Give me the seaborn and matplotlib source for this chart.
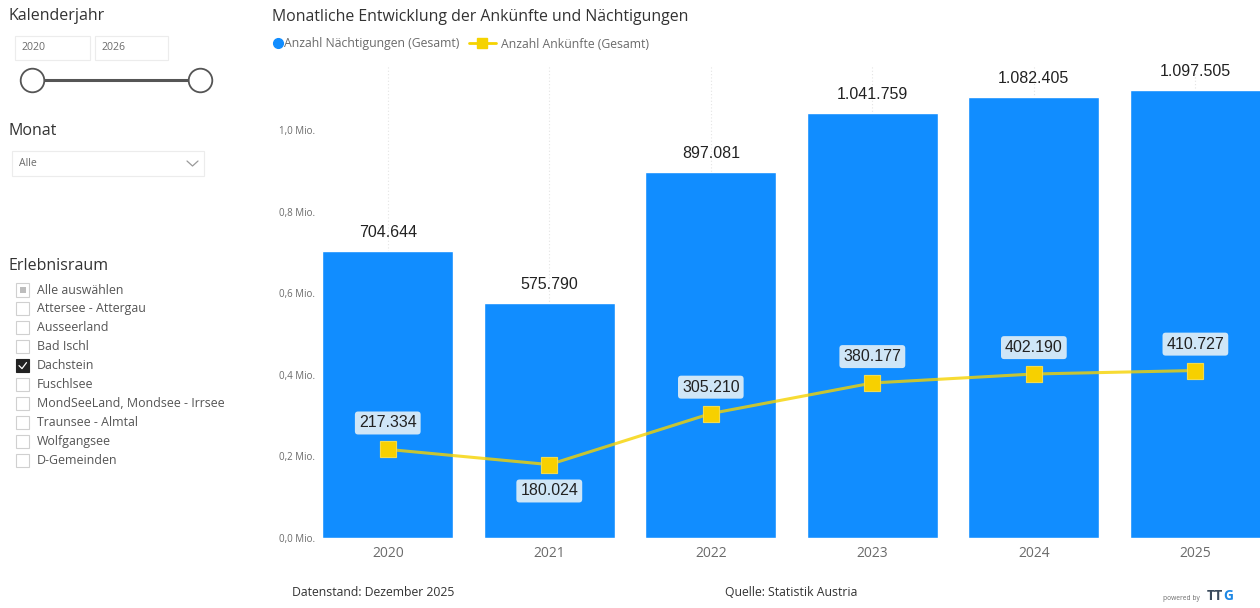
import matplotlib
matplotlib.use("Agg")
import matplotlib.pyplot as plt
import numpy as np
import pandas as pd
import seaborn as sns
from matplotlib.lines import Line2D
from matplotlib.patches import Rectangle

# ---------------------------------------------------------------------------
# Data
# ---------------------------------------------------------------------------
years = ["2020", "2021", "2022", "2023", "2024", "2025"]
naechtigungen = [704644, 575790, 897081, 1041759, 1082405, 1097505]
ankuenfte = [217334, 180024, 305210, 380177, 402190, 410727]
label_below = [False, True, False, False, False, False]

y_ticks = [0, 200000, 400000, 600000, 800000, 1000000]
y_tick_labels = ["0,0 Mio.", "0,2 Mio.", "0,4 Mio.", "0,6 Mio.", "0,8 Mio.", "1,0 Mio."]

regions = ["Alle auswählen", "Attersee - Attergau", "Ausseerland", "Bad Ischl",
           "Dachstein", "Fuschlsee", "MondSeeLand, Mondsee - Irrsee",
           "Traunsee - Almtal", "Wolfgangsee", "D-Gemeinden"]
selected_region = "Dachstein"

BLUE = "#118DFF"
YELLOW = "#F5D300"
GREY = "#6B6B6B"
DARK = "#333333"


def fmt(v):
    return f"{v:,}".replace(",", ".")


df = pd.DataFrame({"Jahr": years, "Naechtigungen": naechtigungen, "Ankuenfte": ankuenfte})

sns.set_theme(style="white")
plt.rcParams["font.family"] = ["Open Sans", "DejaVu Sans"]

W, H = 1260, 608
fig = plt.figure(figsize=(W / 100, H / 100), dpi=100)
fig.patch.set_facecolor("white")


def fx(px):
    return px / W


def fy(py):
    return 1 - py / H


ax = fig.add_axes([fx(307), fy(538), fx(953), (538 - 65) / H])

sns.barplot(data=df, x="Jahr", y="Naechtigungen", color=BLUE, saturation=1,
            width=0.81, ax=ax, zorder=2)
sns.pointplot(data=df, x="Jahr", y="Ankuenfte", color=YELLOW, markers="s",
              markersize=11, linewidth=2.2, ax=ax, zorder=4,
              markeredgecolor="#F0DA50", markeredgewidth=0.8)
# line slightly translucent (greenish over the blue bars), markers solid
for ln in ax.lines:
    ln.set_alpha(0.8)
ax.plot(range(len(years)), ankuenfte, ls="none", marker="s", markersize=11,
        color="#F7D000", mec="#F0DA50", mew=0.8, zorder=5)

ax.set_xlim(-0.5, 5.4)
ax.set_ylim(0, 1.16e6)
ax.set_yticks(y_ticks)
ax.set_yticklabels(y_tick_labels)
ax.set_xlabel("")
ax.set_ylabel("")
ax.tick_params(axis="y", labelsize=7, colors=GREY, length=0, pad=-6)
ax.tick_params(axis="x", labelsize=10, colors=GREY, length=0, pad=6)
for lab in ax.get_yticklabels():
    lab.set_horizontalalignment("right")
for s in ax.spines.values():
    s.set_visible(False)

# faint dotted vertical grid
for i in range(len(years)):
    ax.axvline(i, color="#E4E4E4", lw=0.8, ls=(0, (1, 2)), zorder=0)

# bar labels
for i, v in enumerate(naechtigungen):
    ax.annotate(fmt(v), (i, v), xytext=(0, 8), textcoords="offset points",
                ha="center", va="bottom", fontsize=11.5, color="#222222",
                family=["Liberation Sans", "DejaVu Sans"])

# line labels
for i, (v, below) in enumerate(zip(ankuenfte, label_below)):
    off = -19 if below else 19
    ax.annotate(fmt(v), (i, v), xytext=(0, off), textcoords="offset points",
                ha="center", va="center", fontsize=11.5, color="#222222",
                family=["Liberation Sans", "DejaVu Sans"], zorder=6,
                bbox=dict(boxstyle="round,pad=0.25,rounding_size=0.2",
                          fc="#CFE6F7", ec="none"))

# title and legend (two figure legends, they both stay on the figure)
fig.text(fx(272), fy(17), "Monatliche Entwicklung der Ankünfte und Nächtigungen",
         fontsize=11.4, color=DARK, va="center", ha="left")
fig.legend([Line2D([], [], marker="o", ls="none", color=BLUE, markersize=7)],
           ["Anzahl Nächtigungen (Gesamt)"],
           loc="center left", bbox_to_anchor=(fx(274), fy(44)),
           frameon=False, fontsize=8.8, labelcolor=GREY, handlelength=0.6,
           handletextpad=0.25, borderaxespad=0, borderpad=0)
fig.legend([Line2D([], [], marker="s", color=YELLOW, lw=2, markersize=7)],
           ["Anzahl Ankünfte (Gesamt)"],
           loc="center left", bbox_to_anchor=(fx(469), fy(44)),
           frameon=False, fontsize=8.8, labelcolor=GREY, handlelength=2.2,
           handletextpad=0.4, borderaxespad=0, borderpad=0)

# footer
fig.text(fx(292), fy(593), "Datenstand: Dezember 2025", fontsize=8.8, color=DARK, va="center")
fig.text(fx(725), fy(593), "Quelle: Statistik Austria", fontsize=8.8, color=DARK, va="center")
fig.text(fx(1163), fy(598), "powered by", fontsize=4.8, color=GREY, va="center")
fig.text(fx(1207), fy(596), "TT", fontsize=10, color="#3A4A5C", va="center",
         fontweight="bold")
fig.text(fx(1223), fy(596), "G", fontsize=10, color="#1E88E5", va="center",
         fontweight="bold")

# ---------------------------------------------------------------------------
# Left filter panel
# ---------------------------------------------------------------------------
fig.text(fx(8), fy(16), "Kalenderjahr", fontsize=11.5, color=DARK, va="center")
for x0, x1, txt in [(15, 90, "2020"), (95, 168, "2026")]:
    fig.add_artist(Rectangle((fx(x0), fy(60)), fx(x1 - x0), 24 / H,
                             transform=fig.transFigure, fc="white", ec="#ECECEC", lw=0.8))
    fig.text(fx(x0 + 7), fy(48), txt, fontsize=7.6, color=GREY, va="center")

fig.add_artist(Line2D([fx(32), fx(200)], [fy(80), fy(80)], transform=fig.transFigure,
                      color="#555555", lw=2.2))
for cx in (32, 200):
    fig.add_artist(Line2D([fx(cx)], [fy(80)], transform=fig.transFigure, marker="o",
                          markersize=17, mfc="white", mec="#555555", mew=1.3, ls="none"))

fig.text(fx(8), fy(131), "Monat", fontsize=11.5, color=DARK, va="center")
fig.add_artist(Rectangle((fx(12), fy(176)), fx(192), 25 / H, transform=fig.transFigure,
                         fc="white", ec="#ECECEC", lw=0.8))
fig.text(fx(19), fy(164), "Alle", fontsize=7.6, color=GREY, va="center")
fig.add_artist(Line2D([fx(187), fx(192.5), fx(198)], [fy(161), fy(166), fy(161)],
                      transform=fig.transFigure, color="#9A9A9A", lw=0.9))

fig.text(fx(8), fy(266), "Erlebnisraum", fontsize=11.5, color=DARK, va="center")
for k, name in enumerate(regions):
    yc = 290 + k * 18.9
    checked = name == selected_region
    fig.add_artist(Rectangle((fx(16), fy(yc + 6.5)), fx(13), 13 / H, transform=fig.transFigure,
                             fc="#222222" if checked else "white",
                             ec="#222222" if checked else "#D0D0D0", lw=0.8))
    if k == 0:
        fig.add_artist(Rectangle((fx(19.5), fy(yc + 3)), fx(6), 6 / H,
                                 transform=fig.transFigure, fc="#BDBDBD", ec="none"))
    if checked:
        fig.add_artist(Line2D([fx(19), fx(22), fx(26.5)], [fy(yc), fy(yc + 3), fy(yc - 3)],
                              transform=fig.transFigure, color="white", lw=0.9))
    fig.text(fx(37), fy(yc), name, fontsize=8.9, color="#555555", va="center")

fig.savefig("out.png", dpi=100, facecolor="white")
